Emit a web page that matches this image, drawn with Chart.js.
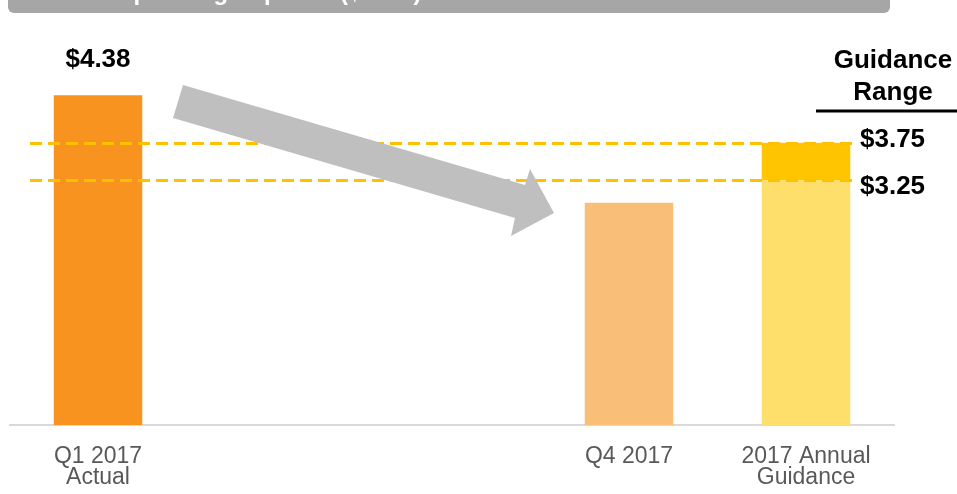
<!DOCTYPE html>
<html>
<head>
<meta charset="utf-8">
<script src="https://cdn.jsdelivr.net/npm/chart.js@4/dist/chart.umd.min.js"></script>
<style>
  body { margin: 0; background: #fff; }
  #wrap { width: 957px; height: 494px; }
</style>
</head>
<body>
<div id="wrap"><canvas id="myChart" width="957" height="494"></canvas></div>
<script>
// values
const categories = [['Q1 2017', 'Actual'], '', '', 'Q4 2017', ['2017 Annual', 'Guidance']];
const actualValues = [4.38, null, null, 2.95, null];
const guidanceLow = 3.25;
const guidanceHigh = 3.75;
const barColors = ['#F7931E', null, null, '#F9BF78', '#FFDF6B'];
const titleText = 'Lease Operating Expense ($/Boe)';

const baseValues = actualValues.map((v, i) => i === 4 ? guidanceLow : v);
const rangeValues = categories.map((c, i) => i === 4 ? [guidanceLow, guidanceHigh] : null);

const overlay = {
    id: 'overlay',
    afterDatasetsDraw(chart) {
        const ctx = chart.ctx;
        const y = chart.scales.y;
        const x = chart.scales.x;

        // header bar, only its bottom edge is on the picture
        ctx.save();
        ctx.fillStyle = '#A6A6A6';
        ctx.beginPath();
        ctx.roundRect(8, -10, 882, 23, 6);
        ctx.fill();
        ctx.fillStyle = '#fff';
        ctx.font = 'bold 24px "Liberation Sans", Arial, sans-serif';
        ctx.textBaseline = 'alphabetic';
        ctx.fillText(titleText, 40, 0);
        ctx.restore();

        // dashed guidance lines
        ctx.save();
        ctx.strokeStyle = '#FFC000';
        ctx.lineWidth = 3;
        ctx.setLineDash([12, 6]);
        [guidanceHigh, guidanceLow].forEach(v => {
            const py = Math.round(y.getPixelForValue(v)) + 0.5;
            ctx.beginPath();
            ctx.moveTo(30, py);
            ctx.lineTo(855, py);
            ctx.stroke();
        });
        ctx.restore();

        // grey trend arrow
        ctx.save();
        ctx.fillStyle = '#BFBFBF';
        ctx.beginPath();
        [[183, 85], [525, 185], [530, 169], [554, 213], [511, 236], [515, 218], [173, 118]]
            .forEach((p, i) => i ? ctx.lineTo(p[0], p[1]) : ctx.moveTo(p[0], p[1]));
        ctx.closePath();
        ctx.fill();
        ctx.restore();

        // text
        ctx.save();
        ctx.fillStyle = '#000';
        ctx.font = 'bold 26px "Liberation Sans", Arial, sans-serif';
        ctx.textAlign = 'center';
        ctx.textBaseline = 'middle';
        ctx.fillText('$' + actualValues[0].toFixed(2), x.getPixelForValue(0), 60);
        ctx.fillText('Guidance', 893, 61);
        ctx.fillText('Range', 893, 93);
        ctx.textAlign = 'left';
        ctx.fillText('$' + guidanceHigh.toFixed(2), 860, y.getPixelForValue(guidanceHigh) - 3);
        ctx.fillText('$' + guidanceLow.toFixed(2), 860, y.getPixelForValue(guidanceLow) + 7);
        ctx.strokeStyle = '#000';
        ctx.lineWidth = 3;
        ctx.beginPath();
        ctx.moveTo(816, 111);
        ctx.lineTo(957, 111);
        ctx.stroke();
        ctx.restore();
    }
};

new Chart(document.getElementById('myChart').getContext('2d'), {
    type: 'bar',
    data: {
        labels: categories,
        datasets: [{
            data: baseValues,
            backgroundColor: barColors,
            grouped: false,
            categoryPercentage: 1,
            barPercentage: 0.5
        }, {
            data: rangeValues,
            backgroundColor: '#FFC600',
            grouped: false,
            categoryPercentage: 1,
            barPercentage: 0.5
        }]
    },
    options: {
        responsive: false,
        animation: false,
        layout: { padding: { left: 9.5, right: 62.5, top: 48.5, bottom: 0 } },
        plugins: { legend: { display: false }, tooltip: { enabled: false } },
        scales: {
            x: {
                grid: { display: false },
                border: { display: true, color: '#D9D9D9', width: 2 },
                ticks: {
                    color: '#595959',
                    padding: 13,
                    maxRotation: 0,
                    autoSkip: false,
                    font: { family: '"Liberation Sans", Arial, sans-serif', size: 23, lineHeight: 0.92 }
                },
                afterFit(scale) { scale.height = 69; }
            },
            y: { display: false, min: 0, max: 5 }
        }
    },
    plugins: [overlay]
});
</script>
</body>
</html>
